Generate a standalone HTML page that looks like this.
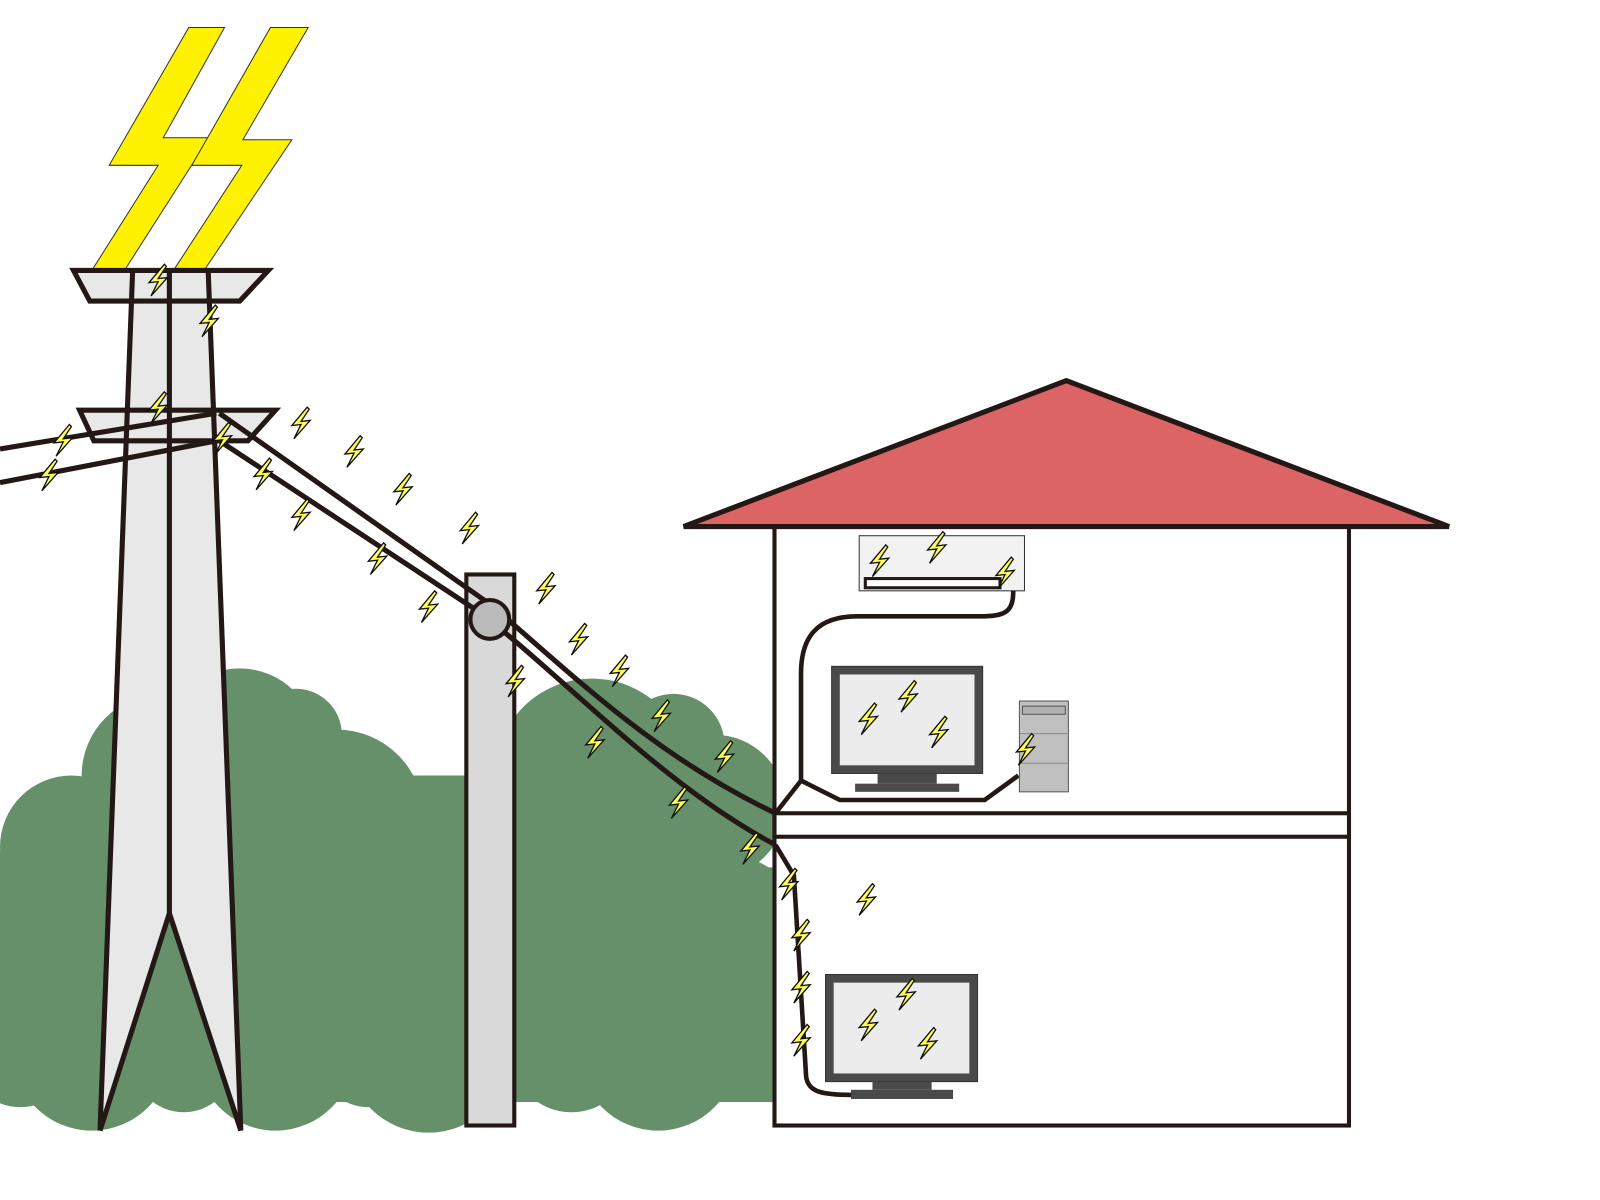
<!DOCTYPE html>
<html><head><meta charset="utf-8"><style>html,body{margin:0;padding:0;background:#fff}svg{display:block}</style></head>
<body>
<svg width="1600" height="1200" viewBox="0 0 1568 1176" xmlns="http://www.w3.org/2000/svg">
<defs>
<symbol id="b" overflow="visible"><path d="M6,-16 L-9,2 L0,1 L-7,15 L9,-3 L0,-2 L8,-14 Z" fill="#ffff55" stroke="#111" stroke-width="1.3" stroke-linejoin="miter"/></symbol>
</defs>
<!-- trees -->
<g fill="#66906a">
<circle cx="160" cy="760" r="80"/><circle cx="235" cy="730" r="75"/><circle cx="290" cy="720" r="45"/>
<circle cx="330" cy="800" r="85"/><circle cx="70" cy="830" r="70"/><circle cx="30" cy="880" r="55"/>
<circle cx="440" cy="840" r="80"/><circle cx="580" cy="760" r="95"/><circle cx="660" cy="730" r="50"/>
<circle cx="700" cy="790" r="70"/><circle cx="720" cy="900" r="60"/><circle cx="720" cy="1010" r="60"/>
<circle cx="90" cy="1030" r="78"/><circle cx="270" cy="1030" r="78"/><circle cx="420" cy="1030" r="80"/>
<circle cx="560" cy="1030" r="60"/><circle cx="645" cy="1030" r="78"/><circle cx="20" cy="1030" r="55"/>
<circle cx="180" cy="1040" r="50"/><circle cx="360" cy="1040" r="45"/>
<rect x="0" y="850" width="760" height="230"/>
<rect x="90" y="760" width="600" height="300"/>
</g>
<!-- big bolts -->
<g fill="#fff200" stroke="#333" stroke-width="1">
<polygon points="185,27 220,27 160,135 205,135 122,265 90,265 155,162 107,162"/>
<polygon points="265,27 302,27 238,137 286,137 200,265 170,265 237,162 188,162"/>
</g>
<!-- tower -->
<g stroke="#231815" stroke-width="5" stroke-linejoin="miter">
<polygon points="130,265 204,265 236,1108 166,895 98,1108" fill="#e8e8e8" stroke="none"/>
<polygon points="72,265 263,265 235,295 88,295" fill="#e8e8e8"/>
<polygon points="78,402 270,402 243,432 92,432" fill="#e8e8e8"/>
<line x1="130" y1="265" x2="98" y2="1108"/>
<line x1="204" y1="265" x2="236" y2="1108"/>
<line x1="166" y1="265" x2="166" y2="895"/>
<polyline points="98,1108 166,895 236,1108" fill="none"/>
<line x1="0" y1="440" x2="212" y2="405"/>
<line x1="0" y1="473" x2="212" y2="432"/>
</g>
<!-- pole -->
<rect x="457" y="563" width="47" height="540" fill="#d9d9d9" stroke="#231815" stroke-width="4"/>
<!-- wires -->
<g stroke="#231815" stroke-width="5" fill="none">
<path d="M215,405 L480,592 C560,660 640,740 760,797"/>
<path d="M215,432 L470,600 C560,670 650,770 760,828"/>
</g>
<circle cx="480" cy="607" r="19" fill="#bbb" stroke="#231815" stroke-width="4"/>
<!-- house -->
<rect x="759" y="515" width="563" height="588" fill="#fff" stroke="#231815" stroke-width="4"/>
<rect x="759" y="797" width="563" height="23" fill="#fff" stroke="#231815" stroke-width="4"/>
<polygon points="670,516 1045,373 1420,516" fill="#dc6464" stroke="#231815" stroke-width="5"/>
<!-- AC -->
<rect x="842" y="525" width="162" height="54" fill="#f2f2f2" stroke="#333" stroke-width="1"/>
<rect x="848" y="567" width="132" height="9" fill="#fff" stroke="#231815" stroke-width="3"/>
<!-- cables -->
<g stroke="#231815" stroke-width="4.5" fill="none">
<path d="M993,579 C993,600 985,604 960,604 L840,604 C800,604 785,625 785,660 L785,765 L760,797"/>
<polyline points="785,765 823,784 965,784 998,760"/>
<path d="M760,828 L778,858 L790,1055 C792,1070 805,1073 835,1073"/>
</g>
<!-- upper monitor -->
<rect x="815" y="653" width="148" height="105" fill="#4a4a4a" stroke="#333" stroke-width="1"/>
<rect x="823" y="661" width="132" height="89" fill="#ececec"/>
<rect x="860" y="758" width="58" height="10" fill="#4a4a4a"/>
<rect x="838" y="768" width="102" height="8" fill="#4a4a4a"/>
<rect x="999" y="687" width="48" height="89" fill="#c0c0c0" stroke="#555" stroke-width="1"/>
<rect x="1002" y="692" width="42" height="8" fill="#b0b0b0" stroke="#555" stroke-width="1"/>
<line x1="999" y1="719" x2="1047" y2="719" stroke="#888"/><line x1="999" y1="748" x2="1047" y2="748" stroke="#888"/>
<!-- lower monitor -->
<rect x="809" y="955" width="149" height="105" fill="#4a4a4a" stroke="#333" stroke-width="1"/>
<rect x="817" y="963" width="133" height="89" fill="#ececec"/>
<rect x="855" y="1060" width="58" height="8" fill="#4a4a4a"/>
<rect x="834" y="1068" width="100" height="9" fill="#4a4a4a"/>
<!-- small bolts -->
<g>
<use href="#b" x="155" y="275"/><use href="#b" x="205" y="315"/><use href="#b" x="155" y="400"/>
<use href="#b" x="62" y="432"/><use href="#b" x="48" y="466"/><use href="#b" x="218" y="430"/>
<use href="#b" x="295" y="415"/><use href="#b" x="258" y="465"/><use href="#b" x="295" y="505"/>
<use href="#b" x="347" y="443"/><use href="#b" x="395" y="480"/><use href="#b" x="370" y="548"/>
<use href="#b" x="460" y="518"/><use href="#b" x="420" y="595"/><use href="#b" x="535" y="577"/>
<use href="#b" x="505" y="668"/><use href="#b" x="567" y="627"/><use href="#b" x="607" y="658"/>
<use href="#b" x="583" y="728"/><use href="#b" x="648" y="702"/><use href="#b" x="710" y="742"/>
<use href="#b" x="665" y="787"/><use href="#b" x="735" y="832"/><use href="#b" x="773" y="867"/>
<use href="#b" x="849" y="882"/><use href="#b" x="785" y="917"/><use href="#b" x="785" y="968"/>
<use href="#b" x="785" y="1020"/><use href="#b" x="862" y="550"/><use href="#b" x="918" y="537"/>
<use href="#b" x="985" y="562"/><use href="#b" x="851" y="705"/><use href="#b" x="890" y="683"/>
<use href="#b" x="920" y="718"/><use href="#b" x="1005" y="735"/><use href="#b" x="851" y="1005"/>
<use href="#b" x="888" y="975"/><use href="#b" x="909" y="1023"/>
</g>
</svg>
</body></html>
